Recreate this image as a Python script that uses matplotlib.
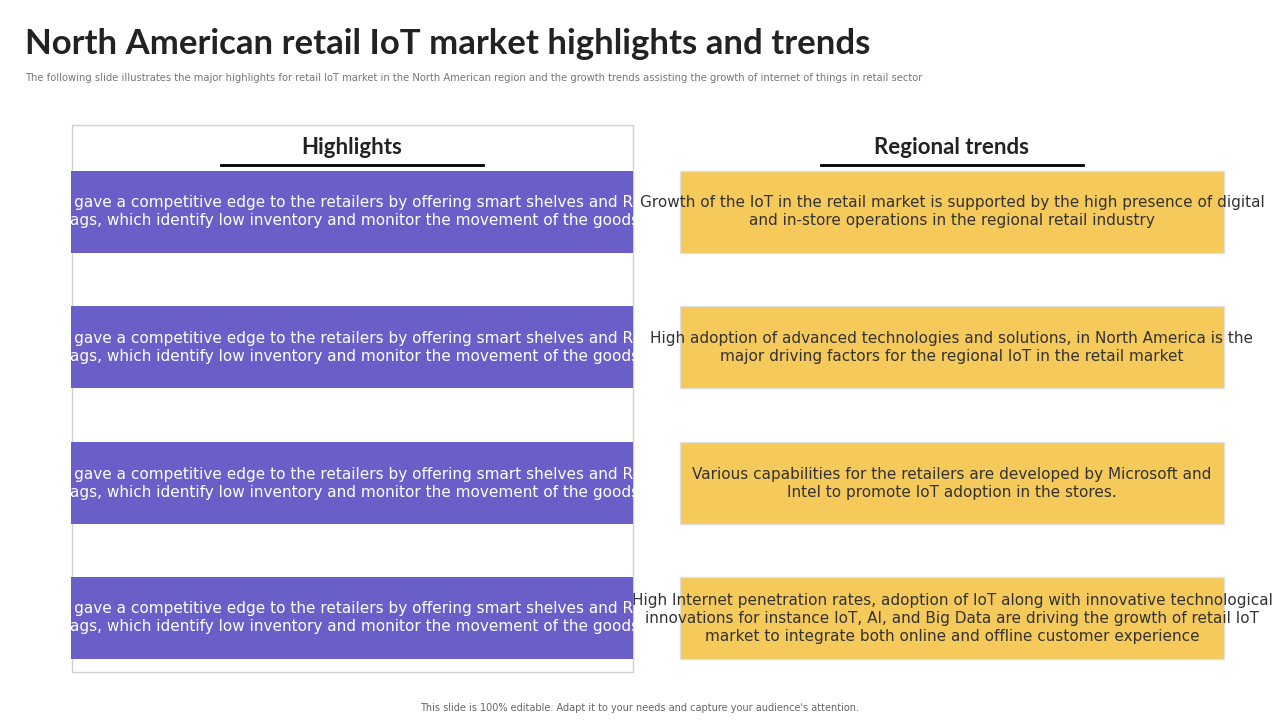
import matplotlib.pyplot as plt
from matplotlib.patches import Rectangle

title = "North American retail IoT market highlights and trends"
subtitle = ("The following slide illustrates the major highlights for retail IoT market in the North American region "
            "and the growth trends assisting the growth of internet of things in retail sector")
footer = "This slide is 100% editable. Adapt it to your needs and capture your audience's attention."
column_heads = ["Highlights", "Regional trends"]
highlight_texts = [
    "IoT gave a competitive edge to the retailers by offering smart shelves and RFID\ntags, which identify low inventory and monitor the movement of the goods",
] * 4
trend_texts = [
    "Growth of the IoT in the retail market is supported by the high presence of digital\nand in-store operations in the regional retail industry",
    "High adoption of advanced technologies and solutions, in North America is the\nmajor driving factors for the regional IoT in the retail market",
    "Various capabilities for the retailers are developed by Microsoft and\nIntel to promote IoT adoption in the stores.",
    "High Internet penetration rates, adoption of IoT along with innovative technological\ninnovations for instance IoT, AI, and Big Data are driving the growth of retail IoT\nmarket to integrate both online and offline customer experience",
]

PURPLE = "#6A5FC8"
YELLOW = "#F5C95A"

fig = plt.figure(figsize=(12.8, 7.2), dpi=100)
ax = fig.add_axes([0, 0, 1, 1])
ax.set_xlim(0, 1280)
ax.set_ylim(720, 0)
ax.axis("off")

ax.text(25, 44, title, fontsize=25, fontweight="bold", family="Lato", color="#222222", va="center")
ax.text(25, 78, subtitle, fontsize=7.2, color="#777777", va="center")
ax.text(640, 708, footer, fontsize=7, color="#666666", ha="center", va="center")

# left panel frame
ax.add_patch(Rectangle((72, 125), 561, 547, fill=False, edgecolor="#d0d0d0", lw=1))

# column headers
for cx, head in zip([352, 952], column_heads):
    ax.text(cx, 147, head, fontsize=16, fontweight="bold", family="Lato", ha="center", va="center", color="#222222")
    ax.plot([cx - 131, cx + 131], [165, 165], color="black", lw=2)

tops = [171, 306, 442, 577]
for top, htxt, ttxt in zip(tops, highlight_texts, trend_texts):
    ax.add_patch(Rectangle((71, top), 562, 82, facecolor=PURPLE, edgecolor="none"))
    ax.text(352, top + 41, htxt, fontsize=11, color="white", ha="center", va="center", linespacing=1.25)
    ax.add_patch(Rectangle((680, top), 544, 82, facecolor=YELLOW, edgecolor="#e0e0e0", lw=1))
    ax.text(952, top + 41, ttxt, fontsize=11, color="#333333", ha="center", va="center", linespacing=1.25)

fig.savefig("out.png", dpi=100)
